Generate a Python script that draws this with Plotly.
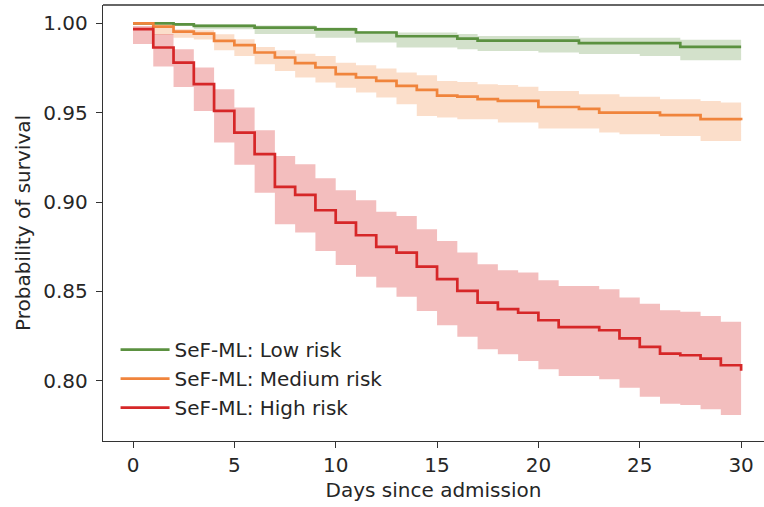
import plotly.graph_objects as go

days = list(range(31))

low_surv = [1.0, 1.0, 0.9995, 0.9986, 0.9986, 0.9986, 0.9976, 0.9976, 0.9976, 0.9966,
            0.9966, 0.9949, 0.9949, 0.9928, 0.9928, 0.9928, 0.9915, 0.9903, 0.9903, 0.9903,
            0.9903, 0.9903, 0.9889, 0.9889, 0.9889, 0.9889, 0.9889, 0.9868, 0.9868, 0.9868, 0.9868]
low_upper = [1.0, 1.0, 1.0, 0.9995, 0.9995, 0.9995, 0.9988, 0.9988, 0.9988, 0.9977,
             0.9977, 0.9958, 0.9958, 0.9949, 0.9949, 0.9949, 0.994, 0.993, 0.993, 0.993,
             0.993, 0.993, 0.992, 0.992, 0.992, 0.992, 0.992, 0.9908, 0.9908, 0.9908, 0.9908]
low_lower = [0.9995, 0.9995, 0.9986, 0.9967, 0.9967, 0.9967, 0.994, 0.994, 0.994, 0.992,
             0.992, 0.9893, 0.9893, 0.9865, 0.9865, 0.9865, 0.9855, 0.9845, 0.9845, 0.9845,
             0.9837, 0.9837, 0.9828, 0.9828, 0.9828, 0.9818, 0.9818, 0.9794, 0.9794, 0.9794, 0.9794]

med_surv = [1.0, 0.9982, 0.9954, 0.9943, 0.9902, 0.9878, 0.9837, 0.9809, 0.9778, 0.9753,
            0.9716, 0.9697, 0.9678, 0.965, 0.9628, 0.9596, 0.959, 0.9576, 0.9566, 0.9566,
            0.9532, 0.9532, 0.9522, 0.95, 0.95, 0.95, 0.9487, 0.9487, 0.9464, 0.9464, 0.9458]
med_upper = [1.0, 0.9992, 0.9967, 0.9962, 0.9939, 0.9911, 0.9868, 0.985, 0.983, 0.9818,
             0.978, 0.9766, 0.9747, 0.9725, 0.971, 0.9678, 0.9672, 0.966, 0.9655, 0.9645,
             0.9622, 0.9622, 0.9603, 0.9603, 0.959, 0.959, 0.9575, 0.9575, 0.9565, 0.9557, 0.9557]
med_lower = [0.9995, 0.9936, 0.992, 0.991, 0.985, 0.9818, 0.9771, 0.9734, 0.9697, 0.9669,
             0.964, 0.9613, 0.9585, 0.9548, 0.9482, 0.9473, 0.9464, 0.9464, 0.9445, 0.9445,
             0.9411, 0.9411, 0.9411, 0.9389, 0.938, 0.938, 0.937, 0.937, 0.9342, 0.9342, 0.9342]

high_surv = [0.9968, 0.9865, 0.978, 0.966, 0.951, 0.9389, 0.9268, 0.9085, 0.904, 0.8954,
             0.8885, 0.8814, 0.8749, 0.8717, 0.8638, 0.8568, 0.8502, 0.8437, 0.84, 0.838,
             0.8338, 0.83, 0.83, 0.8282, 0.8237, 0.8189, 0.8151, 0.8142, 0.8123, 0.8086, 0.8055]
high_upper = [0.9985, 0.994, 0.9855, 0.9753, 0.9631, 0.9529, 0.9402, 0.9258, 0.9212, 0.9133,
              0.9066, 0.901, 0.8946, 0.8922, 0.8848, 0.8782, 0.8717, 0.8652, 0.8618, 0.8605,
              0.8562, 0.853, 0.853, 0.8512, 0.8465, 0.8431, 0.8394, 0.8385, 0.8362, 0.833, 0.833]
high_lower = [0.9884, 0.9758, 0.9644, 0.951, 0.9333, 0.9208, 0.9052, 0.8876, 0.8829, 0.8726,
              0.8648, 0.8581, 0.8521, 0.8469, 0.839, 0.831, 0.8245, 0.8176, 0.8148, 0.811,
              0.8064, 0.8026, 0.8026, 0.8008, 0.796, 0.791, 0.7871, 0.7864, 0.784, 0.7808, 0.7775]

series = [
    ("SeF-ML: Low risk", low_surv, low_upper, low_lower, "#5b9140", "rgba(91,145,64,0.27)"),
    ("SeF-ML: Medium risk", med_surv, med_upper, med_lower, "#f0843c", "rgba(240,132,60,0.27)"),
    ("SeF-ML: High risk", high_surv, high_upper, high_lower, "#d62728", "rgba(214,39,40,0.3)"),
]

FONT = "DejaVu Sans"
TXT = "#262626"
FS = 20

fig = go.Figure()
for name, s, up, lo, col, fillcol in series:
    fig.add_trace(go.Scatter(x=days, y=up, mode="lines", line=dict(width=0, shape="hv", color=col),
                             showlegend=False, hoverinfo="skip"))
    fig.add_trace(go.Scatter(x=days, y=lo, mode="lines", line=dict(width=0, shape="hv", color=col),
                             fill="tonexty", fillcolor=fillcol, showlegend=False, hoverinfo="skip"))
    fig.add_trace(go.Scatter(x=days, y=s, mode="lines", name=name,
                             line=dict(width=2.7, shape="hv", color=col)))

axis_common = dict(
    showgrid=False, zeroline=False, showline=True, linecolor="#333333", linewidth=1.4,
    ticks="outside", ticklen=6, tickwidth=1.3, tickcolor="#333333",
    tickfont=dict(family=FONT, size=FS, color=TXT),
)

fig.update_layout(
    width=764, height=507,
    margin=dict(l=103, r=0, t=5, b=66),
    plot_bgcolor="white", paper_bgcolor="white",
    xaxis=dict(range=[-1.48, 31.13], tickvals=[0, 5, 10, 15, 20, 25, 30],
               title=dict(text="Days since admission", font=dict(family=FONT, size=FS, color=TXT), standoff=6),
               **axis_common),
    yaxis=dict(range=[0.7662, 1.0103], tickvals=[0.80, 0.85, 0.90, 0.95, 1.00],
               tickformat=".2f", ticklabelstandoff=4,
               title=dict(text="Probability of survival", font=dict(family=FONT, size=FS, color=TXT), standoff=7),
               **axis_common),
    legend=dict(x=0.019, y=0.032, xanchor="left", yanchor="bottom", traceorder="normal",
                font=dict(family=FONT, size=FS, color=TXT), bgcolor="rgba(255,255,255,0)",
                itemwidth=49),
    shapes=[dict(type="line", xref="paper", yref="paper", x0=0, x1=1, y0=1, y1=1,
                 line=dict(color="#333333", width=1.4))],
)

fig.write_html("out.html")
